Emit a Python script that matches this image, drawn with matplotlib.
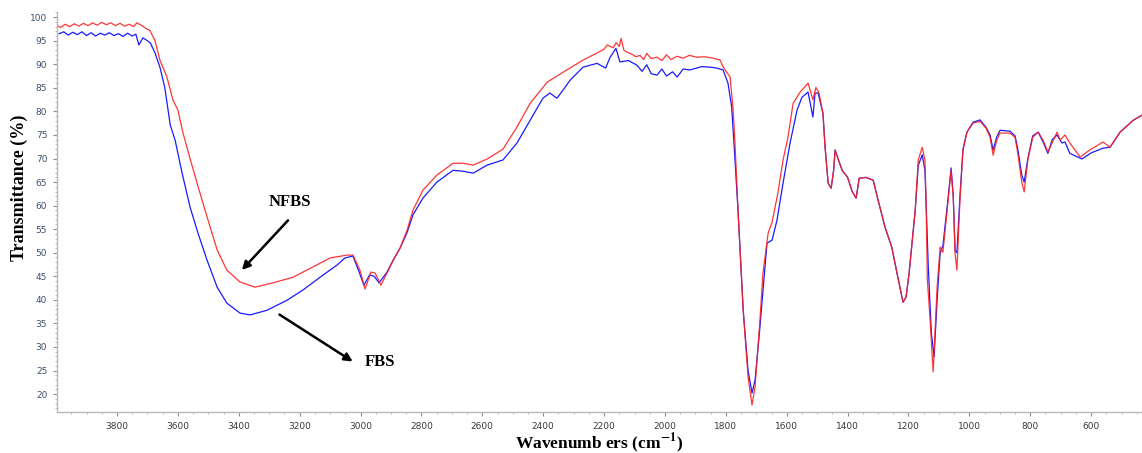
import matplotlib
matplotlib.use("Agg")
import matplotlib.pyplot as plt
from matplotlib.ticker import MultipleLocator

plt.rcParams["mathtext.fontset"] = "stix"

# NFBS spectrum (red): wavenumber (cm-1) and transmittance (%)
nfbs_wn = [3997, 3985, 3970, 3955, 3940, 3925, 3910, 3895, 3880, 3865, 3850, 3835, 3820, 3805,
           3790, 3775, 3760, 3745, 3735, 3720, 3705, 3692, 3675, 3659, 3636, 3616, 3600, 3583,
           3560, 3537, 3504, 3471, 3439, 3396, 3347, 3288, 3222, 3156, 3100, 3044, 3025, 3002,
           2985, 2966, 2952, 2933, 2913, 2893, 2870, 2847, 2828, 2795, 2749, 2696, 2663, 2630,
           2584, 2532, 2486, 2443, 2387, 2335, 2269, 2223, 2200, 2190, 2170, 2160, 2150, 2144,
           2135, 2125, 2110, 2095, 2082, 2070, 2060, 2045, 2026, 2010, 1995, 1980, 1960, 1940,
           1920, 1895, 1870, 1842, 1819, 1809, 1786, 1776, 1770, 1760, 1743, 1727, 1714, 1704,
           1688, 1678, 1661, 1648, 1629, 1612, 1596, 1579, 1556, 1530, 1514, 1504, 1494, 1481,
           1474, 1464, 1454, 1446, 1441, 1430, 1418, 1400, 1385, 1372, 1362, 1340, 1316, 1300,
           1277, 1255, 1235, 1218, 1208, 1198, 1178, 1168, 1155, 1146, 1142, 1138, 1129, 1119,
           1106, 1096, 1087, 1070, 1060, 1053, 1047, 1041, 1031, 1021, 1008, 988, 965, 945,
           932, 922, 910, 899, 867, 850, 841, 828, 820, 808, 792, 774, 758, 742,
           712, 702, 686, 670, 636, 605, 561, 538, 505, 462, 433]
nfbs_t = [98.3, 97.8, 98.5, 98.0, 98.6, 98.1, 98.7, 98.2, 98.8, 98.3, 98.9, 98.4, 98.8, 98.2,
          98.7, 98.1, 98.5, 98.0, 98.8, 98.3, 97.6, 97.2, 95.0, 90.9, 87.3, 82.4, 80.3, 75.4,
          70.0, 64.8, 57.6, 50.6, 46.3, 43.8, 42.7, 43.6, 44.8, 47.0, 48.9, 49.5, 49.5, 46.3,
          42.3, 45.9, 45.7, 43.1, 45.7, 48.4, 51.0, 54.8, 59.0, 63.3, 66.5, 69.0, 69.0, 68.6,
          69.9, 72.0, 76.7, 81.7, 86.2, 88.3, 90.9, 92.4, 93.2, 94.1, 93.5, 94.6, 93.8, 95.5,
          93.0, 92.6, 92.2, 91.6, 91.9, 91.0, 92.3, 91.2, 91.5, 90.8, 92.0, 91.0, 91.7, 91.3,
          91.9, 91.5, 91.6, 91.3, 90.9, 89.4, 87.3, 80.3, 73.3, 59.0, 37.8, 23.6, 17.7, 21.5,
          35.7, 45.7, 54.2, 56.5, 62.7, 69.7, 74.5, 81.7, 84.1, 86.0, 82.5, 85.1, 83.9, 79.6,
          72.4, 64.8, 63.7, 67.5, 71.8, 69.7, 67.5, 66.0, 63.0, 61.6, 65.8, 66.0, 65.4, 61.2,
          55.4, 51.2, 44.8, 39.5, 40.6, 45.7, 59.0, 69.7, 72.4, 69.7, 60.5, 44.2, 35.7, 24.7,
          42.7, 51.2, 50.1, 61.2, 67.5, 61.8, 49.9, 46.3, 61.2, 71.8, 75.6, 77.5, 77.9, 76.4,
          74.5, 70.7, 73.9, 75.4, 75.4, 74.5, 71.1, 65.0, 62.9, 69.7, 74.5, 75.6, 73.9, 71.4,
          75.6, 73.9, 75.0, 73.3, 70.3, 71.8, 73.5, 72.4, 75.6, 78.1, 79.2]

# FBS spectrum (blue)
fbs_wn = [3990, 3975, 3960, 3945, 3930, 3915, 3900, 3885, 3870, 3855, 3840, 3825, 3810, 3795,
          3780, 3765, 3750, 3738, 3728, 3715, 3700, 3690, 3675, 3659, 3643, 3625, 3609, 3586,
          3560, 3534, 3504, 3471, 3439, 3396, 3363, 3307, 3242, 3189, 3133, 3077, 3051, 3025,
          3005, 2989, 2970, 2955, 2939, 2913, 2893, 2870, 2847, 2828, 2795, 2749, 2696, 2663,
          2630, 2584, 2532, 2486, 2443, 2401, 2378, 2355, 2335, 2312, 2269, 2223, 2195, 2180,
          2161, 2148, 2120, 2092, 2075, 2060, 2045, 2026, 2010, 1995, 1975, 1960, 1940, 1918,
          1880, 1852, 1830, 1809, 1793, 1781, 1773, 1760, 1743, 1727, 1714, 1704, 1688, 1665,
          1648, 1632, 1612, 1589, 1566, 1550, 1530, 1514, 1507, 1497, 1481, 1474, 1464, 1454,
          1446, 1441, 1430, 1418, 1400, 1385, 1372, 1362, 1340, 1316, 1300, 1277, 1255, 1235,
          1218, 1208, 1198, 1178, 1168, 1155, 1146, 1135, 1125, 1116, 1106, 1096, 1087, 1070,
          1060, 1053, 1047, 1041, 1031, 1021, 1008, 988, 965, 945, 932, 922, 910, 899,
          867, 850, 841, 828, 820, 808, 792, 774, 758, 742, 728, 712, 696, 686,
          670, 630, 600, 561, 538, 505, 462, 433]
fbs_t = [96.5, 96.9, 96.2, 96.8, 96.3, 96.9, 96.1, 96.7, 96.0, 96.6, 96.2, 96.7, 96.1, 96.5,
         95.9, 96.6, 96.0, 96.4, 94.1, 95.6, 95.0, 94.5, 92.4, 89.4, 85.1, 77.1, 73.9, 66.9,
         59.7, 54.2, 48.4, 42.7, 39.3, 37.2, 36.8, 37.8, 39.9, 42.1, 44.8, 47.4, 48.9, 49.3,
         46.0, 43.1, 45.3, 45.0, 43.6, 45.9, 48.4, 51.0, 54.3, 58.0, 61.6, 65.0, 67.5, 67.3,
         66.9, 68.6, 69.7, 73.3, 78.1, 82.8, 83.9, 82.8, 84.5, 86.6, 89.4, 90.2, 89.2, 91.5,
         93.4, 90.5, 90.8, 89.8, 88.5, 89.9, 88.0, 87.7, 89.0, 87.5, 88.4, 87.3, 89.0, 88.8,
         89.5, 89.4, 89.2, 88.8, 86.0, 81.0, 73.0, 59.0, 37.8, 25.0, 20.2, 23.0, 34.2, 52.0,
         52.7, 56.9, 64.8, 73.3, 80.3, 83.0, 84.1, 78.8, 83.9, 83.9, 79.6, 72.4, 64.8, 63.7,
         67.5, 71.8, 69.7, 67.5, 66.0, 63.0, 61.6, 65.8, 66.0, 65.4, 61.2, 55.4, 51.2, 44.8,
         39.5, 40.6, 45.7, 59.0, 68.5, 70.8, 67.5, 47.0, 33.0, 27.9, 40.0, 50.0, 51.5, 61.5,
         68.0, 62.0, 50.5, 50.0, 62.0, 72.0, 75.6, 77.7, 78.2, 76.6, 75.0, 71.8, 74.6, 76.0,
         75.8, 74.8, 72.0, 66.5, 65.0, 70.0, 74.8, 75.6, 73.5, 71.1, 74.0, 75.0, 73.3, 73.5,
         71.1, 69.9, 71.2, 72.2, 72.4, 75.6, 78.1, 79.2]

y_ticks = [20, 25, 30, 35, 40, 45, 50, 55, 60, 65, 70, 75, 80, 85, 90, 95, 100]
x_ticks = [3800, 3600, 3400, 3200, 3000, 2800, 2600, 2400, 2200, 2000, 1800, 1600, 1400, 1200, 1000, 800, 600]

fig = plt.figure(figsize=(11.42, 4.53), dpi=100)
ax = fig.add_axes([57 / 1142, 41 / 453, 1085 / 1142, 400 / 453])

ax.plot(fbs_wn, fbs_t, color="#1a1aff", lw=0.9)
ax.plot(nfbs_wn, nfbs_t, color="#ff2020", lw=0.9, alpha=0.9)

ax.set_xlim(3997, 433)
ax.set_ylim(16.2, 101.1)
ax.set_xticks(x_ticks)
ax.set_yticks(y_ticks)
ax.xaxis.set_minor_locator(MultipleLocator(50))
ax.yaxis.set_minor_locator(MultipleLocator(1))

for s in ["top", "right"]:
    ax.spines[s].set_visible(False)
for s in ["left", "bottom"]:
    ax.spines[s].set_color("#b8b8b8")
    ax.spines[s].set_linewidth(1.0)

ax.tick_params(axis="both", which="major", length=3, color="#909090", labelsize=6.5, pad=4)
ax.tick_params(axis="both", which="minor", length=1.5, color="#b0b0b0")
ax.tick_params(axis="y", labelcolor="#3c4f6b")
ax.tick_params(axis="x", labelcolor="#3a3a3a")

serif = "Liberation Serif"
ax.set_ylabel("Transmittance (%)", family=serif, fontweight="bold", fontsize=13)
ax.yaxis.set_label_coords(-0.027, 0.56)
ax.set_xlabel(r"Wavenumb ers (cm$^{\mathbf{-1}}$)", family=serif, fontweight="bold", fontsize=12.5)
ax.xaxis.set_label_coords(0.5, -0.048)

# labels with arrows
ax.text(3232, 60.7, "NFBS", family=serif, fontweight="bold", fontsize=12,
        ha="center", va="center")
ax.annotate("", xy=(3396, 45.9), xytext=(3232, 57.3),
            arrowprops=dict(arrowstyle="-|>", color="black", lw=1.8, mutation_scale=12))
ax.text(2936, 26.8, "FBS", family=serif, fontweight="bold", fontsize=12,
        ha="center", va="center")
ax.annotate("", xy=(3018, 26.6), xytext=(3274, 37.2),
            arrowprops=dict(arrowstyle="-|>", color="black", lw=1.8, mutation_scale=12))

plt.savefig("out.png", dpi=100)
